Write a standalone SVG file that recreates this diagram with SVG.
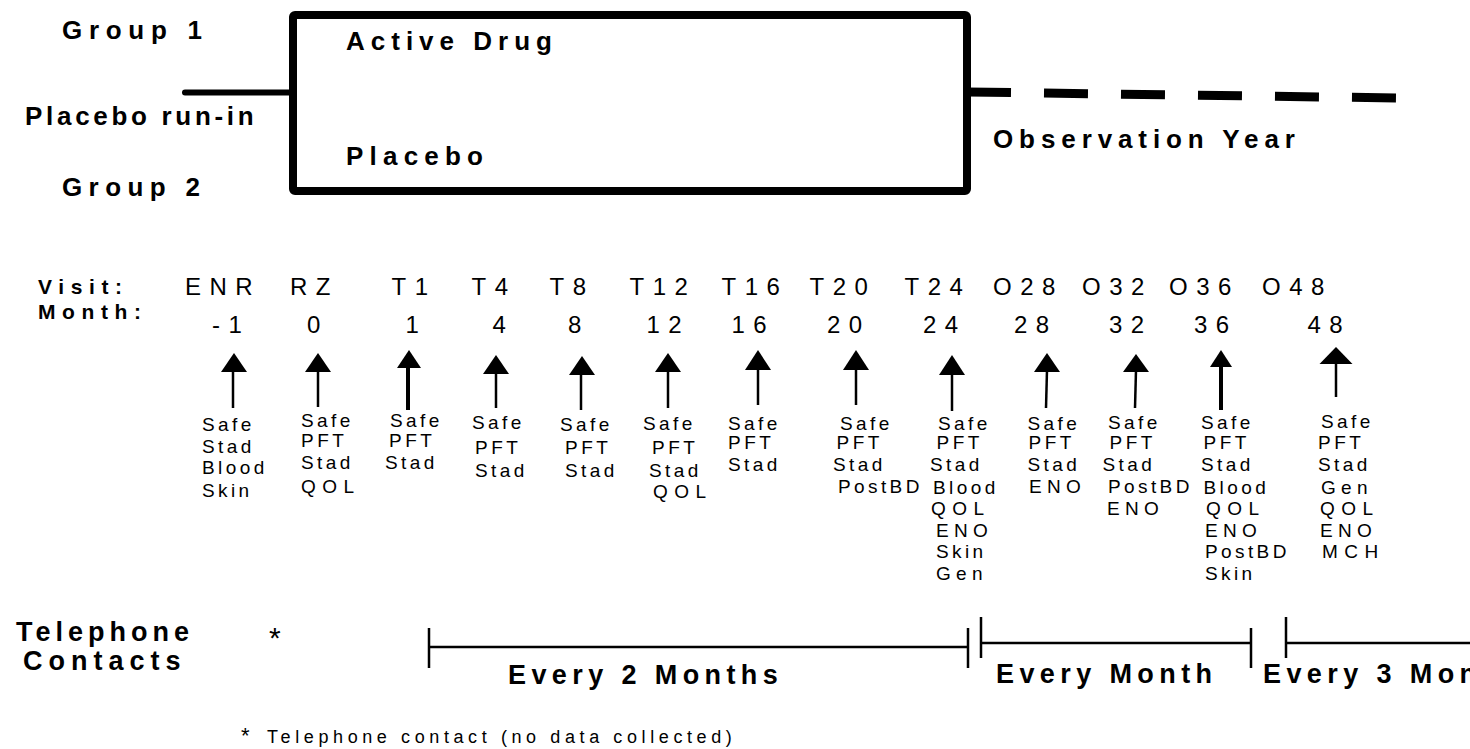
<svg xmlns="http://www.w3.org/2000/svg" width="1470" height="749" viewBox="0 0 1470 749">
<style>
  text { font-family: "Liberation Sans", Arial, sans-serif; fill: #000; }
  .hb { font-weight: bold; font-size: 26px; }
  .hv { font-weight: bold; font-size: 21px; letter-spacing: 6.6px; }
  .vl { font-size: 24px; letter-spacing: 8.5px; }
  .lb { font-size: 19px; letter-spacing: 3.4px; }
  .u1 { letter-spacing: 3.5px; }
  .u2 { letter-spacing: 6.5px; }
  .u3 { letter-spacing: 5.3px; }
  .ev { font-weight: bold; font-size: 27px; letter-spacing: 5.4px; }
  .fn { font-size: 18px; letter-spacing: 4.6px; }
  .ast { font-size: 30px; }
  .shaft { stroke: #000; stroke-width: 2.5; fill: none; }
  .thick { stroke-width: 4; }
  .head { fill: #000; stroke: none; }
  .tl { stroke: #000; stroke-width: 2.5; fill: none; }
  .box { fill: none; stroke: #000; stroke-width: 8; stroke-linejoin: round; }
</style>
<rect width="1470" height="749" fill="#fff"/>

<g id="group1-label"><text class="hb" x="62" y="39" style="letter-spacing:6.7px">Group 1</text></g>
<g id="runin-label"><text class="hb" x="25" y="125" style="letter-spacing:3.7px">Placebo run-in</text></g>
<g id="group2-label"><text class="hb" x="62" y="196" style="letter-spacing:6.4px">Group 2</text></g>

<g id="treatment-box">
  <rect class="box" x="293" y="15" width="674" height="176" rx="2"/>
  <text class="hb" x="346" y="50" style="letter-spacing:6px">Active Drug</text>
  <text class="hb" x="346" y="165" style="letter-spacing:6.2px">Placebo</text>
</g>

<g id="observation-label"><text class="hb" x="993" y="148" style="letter-spacing:5.9px">Observation Year</text></g>

<g id="row-headers">
  <text class="hv" x="38" y="294">Visit:</text>
  <text class="hv" x="38" y="319">Month:</text>
</g>

<g id="visit-ENR">
  <text class="vl" x="185" y="295">ENR</text>
  <text class="vl" x="212" y="333">-1</text>
  <text class="lb"><tspan x="202" y="431">Safe</tspan><tspan x="202" y="453">Stad</tspan><tspan x="202" y="474">Blood</tspan><tspan x="202" y="497">Skin</tspan></text>
</g>
<g id="visit-RZ">
  <text class="vl" x="290" y="295">RZ</text>
  <text class="vl" x="307" y="333">0</text>
  <text class="lb"><tspan x="301" y="427">Safe</tspan><tspan class="u1" x="301" y="447">PFT</tspan><tspan x="301" y="469">Stad</tspan><tspan class="u2" x="301" y="493">QOL</tspan></text>
</g>
<g id="visit-T1">
  <text class="vl" x="391.5" y="295">T1</text>
  <text class="vl" x="405.5" y="333">1</text>
  <text class="lb"><tspan x="390" y="427">Safe</tspan><tspan class="u1" x="389" y="447">PFT</tspan><tspan x="385" y="469">Stad</tspan></text>
</g>
<g id="visit-T4">
  <text class="vl" x="471.5" y="295">T4</text>
  <text class="vl" x="492.5" y="333">4</text>
  <text class="lb"><tspan x="472" y="429">Safe</tspan><tspan class="u1" x="475" y="454">PFT</tspan><tspan x="475" y="477">Stad</tspan></text>
</g>
<g id="visit-T8">
  <text class="vl" x="549.5" y="295">T8</text>
  <text class="vl" x="568" y="333">8</text>
  <text class="lb"><tspan x="560" y="431">Safe</tspan><tspan class="u1" x="565" y="454">PFT</tspan><tspan x="565" y="477">Stad</tspan></text>
</g>
<g id="visit-T12">
  <text class="vl" x="629.5" y="295">T12</text>
  <text class="vl" x="646.5" y="333">12</text>
  <text class="lb"><tspan x="643" y="430">Safe</tspan><tspan class="u1" x="652" y="454">PFT</tspan><tspan x="649" y="477">Stad</tspan><tspan class="u2" x="653" y="498">QOL</tspan></text>
</g>
<g id="visit-T16">
  <text class="vl" x="721.5" y="295">T16</text>
  <text class="vl" x="731.5" y="333">16</text>
  <text class="lb"><tspan x="728" y="430">Safe</tspan><tspan class="u1" x="728" y="449">PFT</tspan><tspan x="728" y="471">Stad</tspan></text>
</g>
<g id="visit-T20">
  <text class="vl" x="809.5" y="295">T20</text>
  <text class="vl" x="827" y="333">20</text>
  <text class="lb"><tspan x="840" y="430">Safe</tspan><tspan class="u1" x="836.5" y="449">PFT</tspan><tspan x="833" y="471">Stad</tspan><tspan x="838" y="493">PostBD</tspan></text>
</g>
<g id="visit-T24">
  <text class="vl" x="904.5" y="295">T24</text>
  <text class="vl" x="923" y="333">24</text>
  <text class="lb"><tspan x="938" y="430">Safe</tspan><tspan class="u1" x="936.5" y="449">PFT</tspan><tspan x="930" y="471">Stad</tspan><tspan x="933" y="494">Blood</tspan><tspan class="u2" x="931" y="515">QOL</tspan><tspan class="u3" x="936" y="537">ENO</tspan><tspan x="936" y="558">Skin</tspan><tspan class="u3" x="936" y="580">Gen</tspan></text>
</g>
<g id="visit-O28">
  <text class="vl" x="993" y="295">O28</text>
  <text class="vl" x="1014" y="333">28</text>
  <text class="lb"><tspan x="1027.5" y="430">Safe</tspan><tspan class="u1" x="1028.5" y="449">PFT</tspan><tspan x="1027.5" y="471">Stad</tspan><tspan class="u3" x="1029" y="493">ENO</tspan></text>
</g>
<g id="visit-O32">
  <text class="vl" x="1082" y="295">O32</text>
  <text class="vl" x="1109" y="333">32</text>
  <text class="lb"><tspan x="1108" y="429">Safe</tspan><tspan class="u1" x="1109.5" y="449">PFT</tspan><tspan x="1102.5" y="471">Stad</tspan><tspan x="1108" y="493">PostBD</tspan><tspan class="u3" x="1107" y="515">ENO</tspan></text>
</g>
<g id="visit-O36">
  <text class="vl" x="1169" y="295">O36</text>
  <text class="vl" x="1194" y="333">36</text>
  <text class="lb"><tspan x="1201" y="429">Safe</tspan><tspan class="u1" x="1203.5" y="449">PFT</tspan><tspan x="1201" y="471">Stad</tspan><tspan x="1203.5" y="494">Blood</tspan><tspan class="u2" x="1206" y="515">QOL</tspan><tspan class="u3" x="1205" y="537">ENO</tspan><tspan x="1205" y="558">PostBD</tspan><tspan x="1205" y="580">Skin</tspan></text>
</g>
<g id="visit-O48">
  <text class="vl" x="1262" y="295">O48</text>
  <text class="vl" x="1307.5" y="333">48</text>
  <text class="lb"><tspan x="1321" y="428">Safe</tspan><tspan class="u1" x="1318" y="449">PFT</tspan><tspan x="1318" y="471">Stad</tspan><tspan class="u3" x="1321" y="494">Gen</tspan><tspan class="u2" x="1320" y="515">QOL</tspan><tspan class="u3" x="1320" y="537">ENO</tspan><tspan class="u2" x="1322" y="558">MCH</tspan></text>
</g>

<g id="telephone-label">
  <text class="hb" x="16" y="641" style="font-size:27px;letter-spacing:5px">Telephone</text>
  <text class="hb" x="23" y="670" style="font-size:27px;letter-spacing:6px">Contacts</text>
  <text class="ast" x="269" y="648">*</text>
</g>
<g id="every-2-months"><text class="ev" x="508" y="684">Every 2 Months</text></g>
<g id="every-month"><text class="ev" x="996" y="683">Every Month</text></g>
<g id="every-3-months"><text class="ev" x="1263" y="683">Every 3 Months</text></g>

<g id="footnote">
  <text class="ast" x="241" y="743" style="font-size:22px">*</text>
  <text class="fn" x="267" y="743">Telephone contact (no data collected)</text>
</g>

<g id="connectors">
  <line x1="185" y1="92.5" x2="293" y2="92.5" stroke="#000" stroke-width="6" stroke-linecap="round"/>
  <line x1="967" y1="92" x2="1397" y2="98" stroke="#000" stroke-width="9" stroke-dasharray="44 33"/>

  <line class="shaft" x1="233" y1="408" x2="233" y2="370"/><polygon class="head" points="234,353 221,372 247,372"/>
  <line class="shaft" x1="318" y1="407" x2="318" y2="370"/><polygon class="head" points="318,353 305,372 331,372"/>
  <line class="shaft thick" x1="408" y1="410" x2="408" y2="366"/><polygon class="head" points="409,350 397,368 421,368"/>
  <line class="shaft" x1="496" y1="408" x2="496" y2="372"/><polygon class="head" points="496,355 483,374 509,374"/>
  <line class="shaft" x1="581" y1="410" x2="581" y2="373"/><polygon class="head" points="582,356 569,375 595,375"/>
  <line class="shaft" x1="668" y1="408" x2="668" y2="370"/><polygon class="head" points="668,353 655,372 681,372"/>
  <line class="shaft" x1="758" y1="405" x2="758" y2="368"/><polygon class="head" points="758,350 745,370 771,370"/>
  <line class="shaft" x1="856" y1="405" x2="856" y2="368"/><polygon class="head" points="856,350 843,370 869,370"/>
  <line class="shaft" x1="952" y1="411" x2="952" y2="373"/><polygon class="head" points="952,355 939,375 965,375"/>
  <line class="shaft" x1="1046" y1="408" x2="1047" y2="370"/><polygon class="head" points="1047,353 1034,372 1060,372"/>
  <line class="shaft" x1="1135" y1="408" x2="1136" y2="370"/><polygon class="head" points="1136,354 1123,372 1149,372"/>
  <line class="shaft thick" x1="1221" y1="410" x2="1221" y2="365"/><polygon class="head" points="1221,350 1210,367 1232,367"/>
  <line class="shaft" x1="1336" y1="397" x2="1336" y2="362"/><polygon class="head" points="1336,347 1319.5,364 1352.5,364"/>

  <path class="tl" d="M429,628 V668 M429,647 H968 M968,628 V668"/>
  <path class="tl" d="M981,617 V658 M981,643 H1251 M1251,628 V668"/>
  <path class="tl" d="M1286,617 V658 M1286,643 H1470"/>
</g>
</svg>
